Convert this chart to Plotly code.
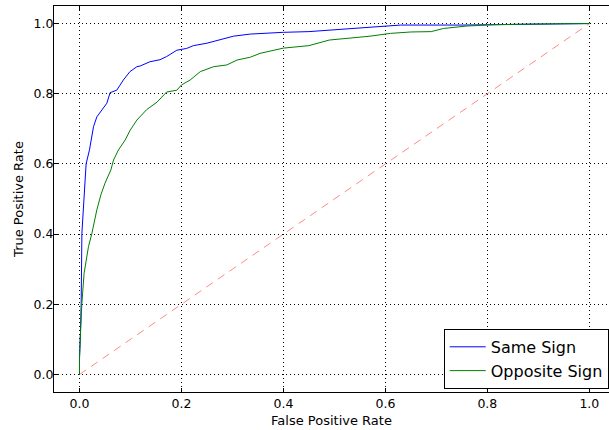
import plotly.graph_objects as go

# ROC data
fpr_same = [0.0, 0.0, 0.002, 0.0033, 0.0047, 0.009, 0.013, 0.0196, 0.0275, 0.034, 0.0537, 0.060, 0.073,
            0.086, 0.099, 0.1125, 0.119, 0.138, 0.158, 0.171, 0.191, 0.21, 0.2235, 0.250, 0.276, 0.302,
            0.335, 0.354, 0.40, 0.45, 0.50, 0.55, 0.60, 0.63, 0.75, 0.90, 0.94, 1.0]
tpr_same = [0.0, 0.05, 0.12, 0.203, 0.402, 0.516, 0.60, 0.64, 0.706, 0.734, 0.773, 0.803, 0.81,
            0.839, 0.863, 0.877, 0.879, 0.891, 0.897, 0.906, 0.924, 0.929, 0.937, 0.944, 0.955, 0.964,
            0.970, 0.972, 0.975, 0.977, 0.982, 0.988, 0.992, 0.9957, 0.9957, 0.9986, 1.0, 1.0]

fpr_opp = [0.0, 0.0, 0.002, 0.0047, 0.009, 0.0176, 0.0243, 0.034, 0.042, 0.050, 0.0616, 0.0667, 0.0765,
           0.0896, 0.0994, 0.1125, 0.132, 0.152, 0.171, 0.191, 0.200, 0.217, 0.237, 0.263, 0.289, 0.309,
           0.335, 0.354, 0.40, 0.45, 0.49, 0.57, 0.61, 0.65, 0.69, 0.714, 0.76, 0.811, 0.89, 0.968, 1.0]
tpr_opp = [0.0, 0.04, 0.12, 0.203, 0.288, 0.364, 0.402, 0.469, 0.512, 0.545, 0.583, 0.611, 0.64,
           0.668, 0.696, 0.725, 0.755, 0.776, 0.805, 0.810, 0.825, 0.839, 0.863, 0.877, 0.882, 0.896,
           0.904, 0.915, 0.93, 0.937, 0.953, 0.964, 0.972, 0.976, 0.977, 0.986, 0.993, 0.9966, 0.9986, 1.0, 1.0]

diag = [0.0, 1.0]
tick_vals = [0.0, 0.2, 0.4, 0.6, 0.8, 1.0]
tick_text = ["0.0", "0.2", "0.4", "0.6", "0.8", "1.0"]

FONT = "DejaVu Sans"

fig = go.Figure()
fig.add_trace(go.Scatter(x=diag, y=diag, mode="lines", showlegend=False,
                         line=dict(color="#ff8a8a", width=1, dash="8px,6px")))
fig.add_trace(go.Scatter(x=fpr_same, y=tpr_same, mode="lines", name="Same Sign",
                         line=dict(color="#0000ff", width=1)))
fig.add_trace(go.Scatter(x=fpr_opp, y=tpr_opp, mode="lines", name="Opposite Sign",
                         line=dict(color="#008000", width=1)))

axis_common = dict(
    showline=True, linecolor="black", linewidth=1,
    ticks="inside", ticklen=4, tickwidth=1, tickcolor="black",
    showgrid=True, gridcolor="black", gridwidth=1, griddash="1px,3px",
    zeroline=False, tickvals=tick_vals, ticktext=tick_text,
    tickfont=dict(family=FONT, size=12.5, color="black"),
)

fig.update_layout(
    width=609, height=430,
    margin=dict(l=54, r=0, t=6, b=38),
    paper_bgcolor="white", plot_bgcolor="white",
    font=dict(family=FONT, color="black"),
    xaxis=dict(range=[-0.05, 1.0386], mirror="ticks",
               title=dict(text="False Positive Rate", font=dict(family=FONT, size=13), standoff=5),
               **axis_common),
    yaxis=dict(range=[-0.05, 1.05], ticklabelstandoff=-3,
               title=dict(text="True Positive Rate", font=dict(family=FONT, size=13), standoff=7),
               **axis_common),
    legend=dict(x=0.9995, y=0.008, xanchor="right", yanchor="bottom",
                bgcolor="white", bordercolor="black", borderwidth=1,
                font=dict(family=FONT, size=16, color="black"),
                itemwidth=36, tracegroupgap=0),
    showlegend=True,
)

fig.write_html("out.html", config={"displayModeBar": False},
               post_script="document.body.style.margin='0px';document.body.style.overflow='hidden';")
